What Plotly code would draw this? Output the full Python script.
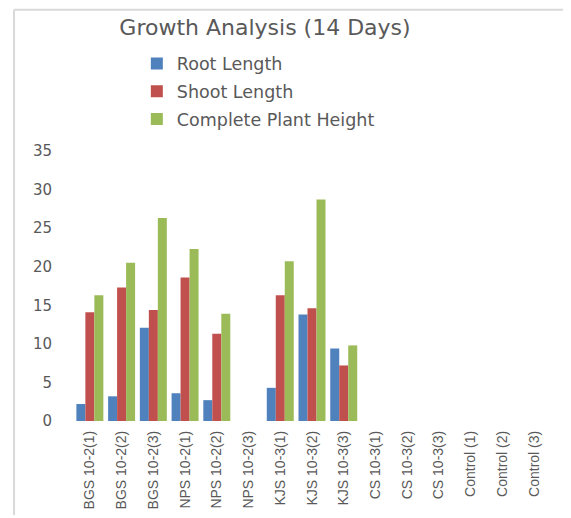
import plotly.graph_objects as go

categories = ["BGS 10-2(1)", "BGS 10-2(2)", "BGS 10-2(3)", "NPS 10-2(1)", "NPS 10-2(2)",
              "NPS 10-2(3)", "KJS 10-3(1)", "KJS 10-3(2)", "KJS 10-3(3)", "CS 10-3(1)",
              "CS 10-3(2)", "CS 10-3(3)", "Control (1)", "Control (2)", "Control (3)"]
root_length = [2.2, 3.2, 12.1, 3.6, 2.7, 0, 4.3, 13.8, 9.4, 0, 0, 0, 0, 0, 0]
shoot_length = [14.1, 17.3, 14.4, 18.6, 11.3, 0, 16.3, 14.6, 7.2, 0, 0, 0, 0, 0, 0]
plant_height = [16.3, 20.5, 26.3, 22.3, 13.9, 0, 20.7, 28.7, 9.8, 0, 0, 0, 0, 0, 0]
y_ticks = [0, 5, 10, 15, 20, 25, 30, 35]

series = [
    ("Root Length", root_length, "#4F81BD"),
    ("Shoot Length", shoot_length, "#C0504D"),
    ("Complete Plant Height", plant_height, "#9BBB59"),
]

fig = go.Figure()
for i, (name, vals, col) in enumerate(series):
    fig.add_trace(go.Bar(x=categories, y=vals, name=name, legendgroup=f"g{i}",
                         marker=dict(color=col, line=dict(width=0))))

gray = "#595959"
fig.update_layout(
    width=563, height=510,
    margin=dict(l=66, r=21, t=143, b=97, autoexpand=False),
    paper_bgcolor="white", plot_bgcolor="white",
    barmode="group", bargap=0.15, bargroupgap=0,
    title=dict(text="Growth Analysis (14 Days)", x=0.4565, xanchor="center",
               y=0.9627, yanchor="middle",
               font=dict(family="DejaVu Sans", size=22, color=gray)),
    legend=dict(x=0.132, xanchor="left", y=1.39, yanchor="top",
                orientation="v", traceorder="grouped", tracegroupgap=2,
                font=dict(family="DejaVu Sans", size=17.5, color=gray),
                bgcolor="rgba(0,0,0,0)"),
    showlegend=True,
    font=dict(family="DejaVu Sans", color=gray),
)
fig.update_yaxes(range=[0, 35], tickvals=y_ticks, showgrid=False, zeroline=False,
                 showline=False, ticks="", ticklabelstandoff=21, automargin=False,
                 tickfont=dict(family="DejaVu Sans", size=15, color=gray))
fig.update_xaxes(tickangle=-90, showgrid=False, showline=False, ticks="",
                 ticklabelstandoff=6, automargin=False,
                 tickfont=dict(family="Liberation Sans Narrow, Liberation Sans", size=14, color=gray))

# chart frame (left and top edges)
fig.add_shape(type="line", xref="paper", yref="paper", x0=-0.126, x1=-0.126, y0=-0.348, y1=1.523,
              line=dict(color="#d9d9d9", width=2))
fig.add_shape(type="line", xref="paper", yref="paper", x0=-0.126, x1=1.06, y0=1.523, y1=1.523,
              line=dict(color="#d9d9d9", width=2))

fig.write_html("out.html")
